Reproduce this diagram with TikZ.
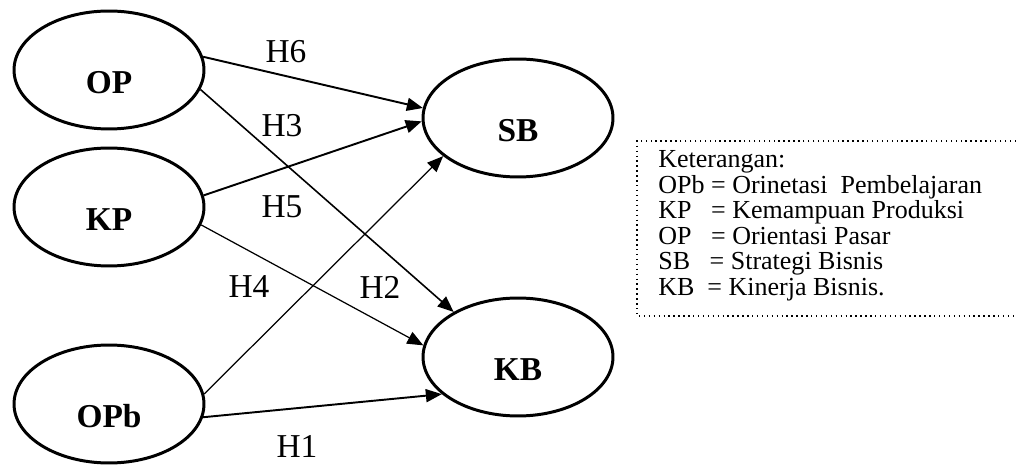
\documentclass[tikz,border=0pt]{standalone}
\usepackage{fontspec}
\setmainfont{Liberation Serif}
\usepackage{tikz}
\usetikzlibrary{arrows.meta,shapes.geometric}
\tikzset{
  var_n/.style = {ellipse, draw=black, line width=1.7pt,
    minimum width=3.8cm, minimum height=2.36cm, inner sep=0pt,
    font=\fontsize{19}{19}\selectfont\bfseries,
    text height=0.95cm, text depth=0pt},% variabel laten
  hyp/.style = {inner sep=0pt, font=\fontsize{19}{19}\selectfont},% label hipotesis
  path_k/.style = {-{Triangle[length=0.32cm,width=0.26cm]}, line width=1.1pt},% jalur tebal
  path_m/.style = {-{Triangle[length=0.32cm,width=0.26cm]}, line width=0.9pt},% jalur sedang
  path_t/.style = {-{Triangle[length=0.32cm,width=0.26cm]}, line width=0.7pt},% jalur tipis
  ket/.style = {align=left, anchor=north west, inner sep=0pt,
    font=\fontsize{14.8}{14.6}\selectfont}% keterangan
}

\begin{document}
\begin{tikzpicture}[x=0.02cm, y=-0.02cm]
  \useasboundingbox (0,0) rectangle (1016,465);
  % variabel
  \node [var_n] (OP)  at (109,70)  {OP};
  \node [var_n] (KP)  at (109,207) {KP};
  \node [var_n] (OPb) at (109,404) {OPb};
  \node [var_n] (SB)  at (518,118) {SB};
  \node [var_n] (KB)  at (518,357) {KB};
  % jalur
  \draw [path_k] (OP.8)   -- (SB.174);
  \draw [path_m] (OP.-12) -- (KB.145);
  \draw [path_k] (KP.7)   -- (SB.-178);
  \draw [path_t] (KP.-11) -- (KB.173);
  \draw [path_t] (OPb.6)  -- (SB.207);
  \draw [path_k] (OPb.-8) -- (KB.206);
  % hipotesis
  \node [hyp] (h6) at (286,52)  {H6};
  \node [hyp] (h3) at (282,126) {H3};
  \node [hyp] (h5) at (282,207) {H5};
  \node [hyp] (h4) at (249,287) {H4};
  \node [hyp] (h2) at (380,287) {H2};
  \node [hyp] (h1) at (297,446) {H1};
  % keterangan
  \draw [dotted, line width=0.8pt] (1016,141) -- (637,141) -- (637,316) -- (1016,316);
  \node [ket] (ket) at (658,150) {Keterangan:\\
    OPb = Orinetasi\ \ Pembelajaran\\
    KP\ \ \ = Kemampuan Produksi\\
    OP\ \ \ = Orientasi Pasar\\
    SB\ \ \ = Strategi Bisnis\\
    KB\ \ = Kinerja Bisnis.};
\end{tikzpicture}
\end{document}
